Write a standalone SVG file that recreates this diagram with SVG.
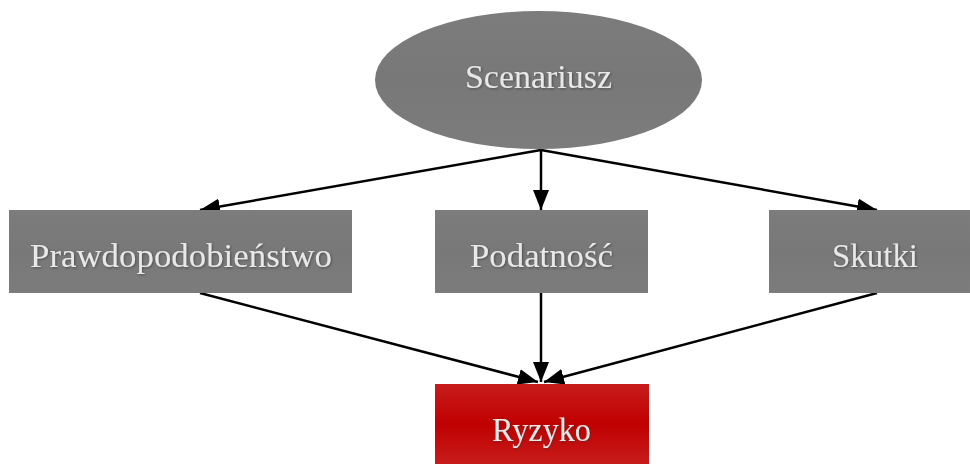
<svg xmlns="http://www.w3.org/2000/svg" width="970" height="464" viewBox="0 0 970 464">
<defs>
<linearGradient id="gray" x1="0" y1="0" x2="0" y2="1">
<stop offset="0" stop-color="#7c7c7c"/><stop offset="0.5" stop-color="#787878"/><stop offset="1" stop-color="#7c7c7c"/>
</linearGradient>
<linearGradient id="red" x1="0" y1="0" x2="0" y2="1">
<stop offset="0" stop-color="#c81c1c"/><stop offset="0.5" stop-color="#c00000"/><stop offset="1" stop-color="#c81c1c"/>
</linearGradient>
<marker id="ah" markerWidth="20" markerHeight="16" viewBox="0 0 20 16" refX="20" refY="8" orient="auto" markerUnits="userSpaceOnUse">
<path d="M0,0 L20,8 L0,16 Z" fill="#000"/>
</marker>
<filter id="sh" x="-10%" y="-20%" width="120%" height="140%">
<feDropShadow dx="1" dy="1" stdDeviation="0.8" flood-color="#333" flood-opacity="0.6"/>
</filter>
</defs>
<style>
.lbl{font-family:"Liberation Serif","DejaVu Serif",serif;font-size:33px;fill:#e8e8e8;text-anchor:middle;filter:url(#sh)}
.con{stroke:#000;stroke-width:2.5;fill:none;marker-end:url(#ah)}
</style>
<g id="connectors">
<line class="con" x1="541" y1="150" x2="200" y2="210"/>
<line class="con" x1="541" y1="150" x2="541" y2="210"/>
<line class="con" x1="541" y1="150" x2="877" y2="210"/>
<line class="con" x1="200" y1="293" x2="538" y2="382"/>
<line class="con" x1="541" y1="293" x2="541" y2="382"/>
<line class="con" x1="877" y1="293" x2="544" y2="382"/>
</g>
<g id="scenariusz">
<ellipse cx="538.5" cy="80" rx="163.5" ry="69" fill="url(#gray)"/>
<text class="lbl" x="538.5" y="88" textLength="147" lengthAdjust="spacingAndGlyphs">Scenariusz</text>
</g>
<g id="prawdopodobienstwo">
<rect x="9" y="210" width="343" height="83" fill="url(#gray)"/>
<text class="lbl" x="181" y="267" textLength="302" lengthAdjust="spacingAndGlyphs">Prawdopodobieństwo</text>
</g>
<g id="podatnosc">
<rect x="435" y="210" width="213" height="83" fill="url(#gray)"/>
<text class="lbl" x="541.5" y="267" textLength="143" lengthAdjust="spacingAndGlyphs">Podatność</text>
</g>
<g id="skutki">
<rect x="769" y="210" width="201" height="83" fill="url(#gray)"/>
<text class="lbl" x="875" y="267" textLength="86" lengthAdjust="spacingAndGlyphs">Skutki</text>
</g>
<g id="ryzyko">
<rect x="435" y="384" width="214" height="80" fill="url(#red)"/>
<text class="lbl" x="541.5" y="441" textLength="99" lengthAdjust="spacingAndGlyphs">Ryzyko</text>
</g>
</svg>
